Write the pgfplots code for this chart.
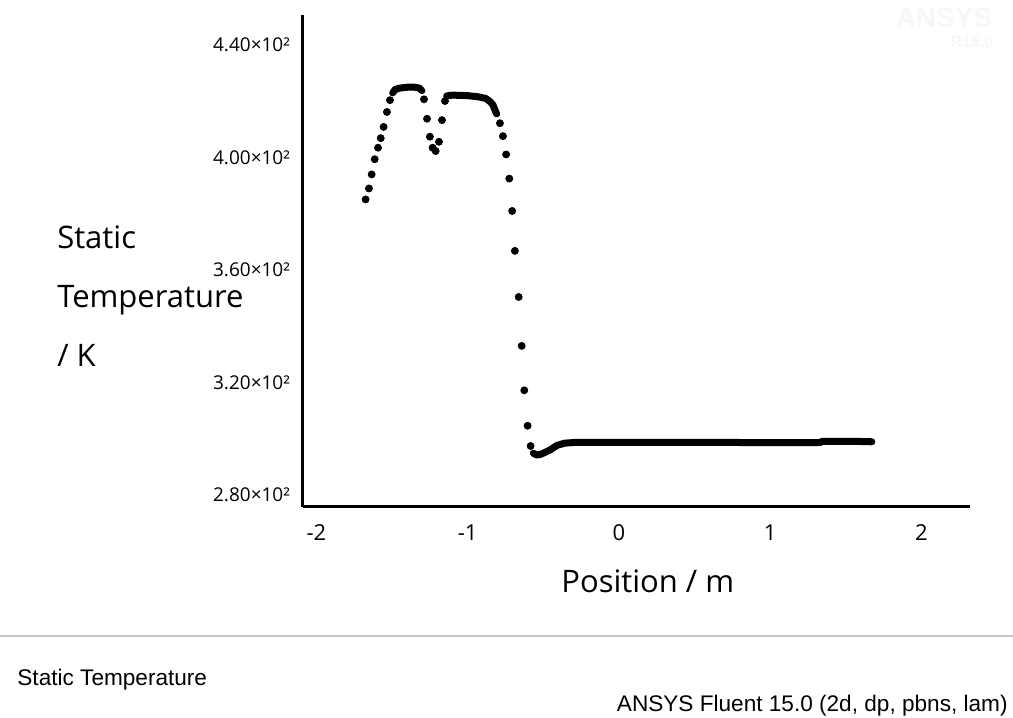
\documentclass[border=0pt]{standalone}
\usepackage{fontspec}
\setmainfont{Open Sans}
\newfontfamily\arialfont{Liberation Sans}
\usepackage{pgfplots}
\pgfplotsset{compat=1.18}

\begin{document}
\begin{tikzpicture}[x=1pt,y=1pt]
\useasboundingbox (0,0) rectangle (506.5,359);
\fill[white] (0,0) rectangle (506.5,359);
% faint watermark
\node[font=\arialfont\bfseries\fontsize{14}{14}\selectfont, text=black!3] at (472,350) {ANSYS};
\node[font=\arialfont\bfseries\fontsize{8}{8}\selectfont, text=black!3] at (486,338) {R15.0};
\begin{axis}[
    at={(151.5pt,105.5pt)}, anchor=south west,
    scale only axis, width=333.5pt, height=246pt,
    xmin=-2.089, xmax=2.321,
    ymin=275.7, ymax=450.7,
    axis x line=bottom, axis y line=left,
    axis line style={-, line width=1.5pt, black},
    major tick length=0pt,
    xtick={-2,-1,0,1,2},
    xticklabels={-2,-1,0,1,2},
    ytick={280,320,360,400,440},
    yticklabels={2.80×10²,3.20×10²,3.60×10²,4.00×10²,4.40×10²},
    xticklabel style={font=\fontsize{11}{13}\selectfont, yshift=-5pt,
        text height=8pt, text depth=0pt},
    yticklabel style={font=\fontsize{9.5}{11}\selectfont, xshift=-3pt},
    xlabel={Position / m},
    ylabel={Static\\Temperature\\/ K},
    xlabel style={font=\fontsize{15.5}{18}\selectfont, anchor=center,
        at={(axis description cs:0.517,-0.15)}},
    ylabel style={rotate=-90, font=\fontsize{15.5}{29.5}\selectfont,
        align=left, anchor=west, at={(axis description cs:-0.379,0.429)}},
]
% sparse nodes
\addplot[only marks, mark=*, mark size=1.75pt, black] coordinates {
    (-1.675,385.1) (-1.653,389.0) (-1.635,394.0) (-1.615,399.4)
    (-1.593,403.5) (-1.575,406.9) (-1.556,410.9) (-1.534,416.2)
    (-1.514,420.4)
    (-1.289,420.7) (-1.269,413.8) (-1.250,407.4) (-1.232,403.5)
    (-1.212,402.3) (-1.190,405.6) (-1.170,413.3) (-1.150,420.1)
    (-0.787,412.2) (-0.767,407.6) (-0.746,401.1) (-0.725,392.5)
    (-0.706,381.0) (-0.688,366.8) (-0.663,350.4) (-0.643,333.0)
    (-0.626,317.2) (-0.604,304.6) (-0.584,297.4)
};
% dense stretches
\addplot[black, line width=3.5pt, line cap=round, line join=round] coordinates {
    (-1.496,423.0) (-1.480,424.2) (-1.450,424.7) (-1.400,425.0)
    (-1.350,425.0) (-1.320,424.7) (-1.303,423.8)
};
\addplot[black, line width=3.5pt, line cap=round, line join=round] coordinates {
    (-1.139,421.9) (-1.100,422.2) (-1.000,422.0) (-0.930,421.6)
    (-0.880,421.0) (-0.850,419.8) (-0.833,418.7) (-0.809,415.5)
};
\addplot[black, line width=3.5pt, line cap=round, line join=round] coordinates {
    (-0.566,294.8) (-0.544,294.2) (-0.520,294.4) (-0.490,295.1)
    (-0.455,296.0) (-0.410,297.6) (-0.360,298.4) (-0.280,298.7)
    (0.000,298.7) (0.500,298.7) (1.000,298.6) (1.330,298.6)
    (1.340,299.0) (1.600,299.0) (1.672,298.9)
};
\end{axis}
\draw[black!22, line width=0.6pt] (0,41) -- (506.5,41);
\node[anchor=west, inner sep=0pt, font=\arialfont\fontsize{11.3}{13}\selectfont] at (8.5,19) {Static Temperature};
\node[anchor=east, inner sep=0pt, font=\arialfont\fontsize{11.3}{13}\selectfont] at (504,6) {ANSYS Fluent 15.0 (2d, dp, pbns, lam)};
\end{tikzpicture}
\end{document}
